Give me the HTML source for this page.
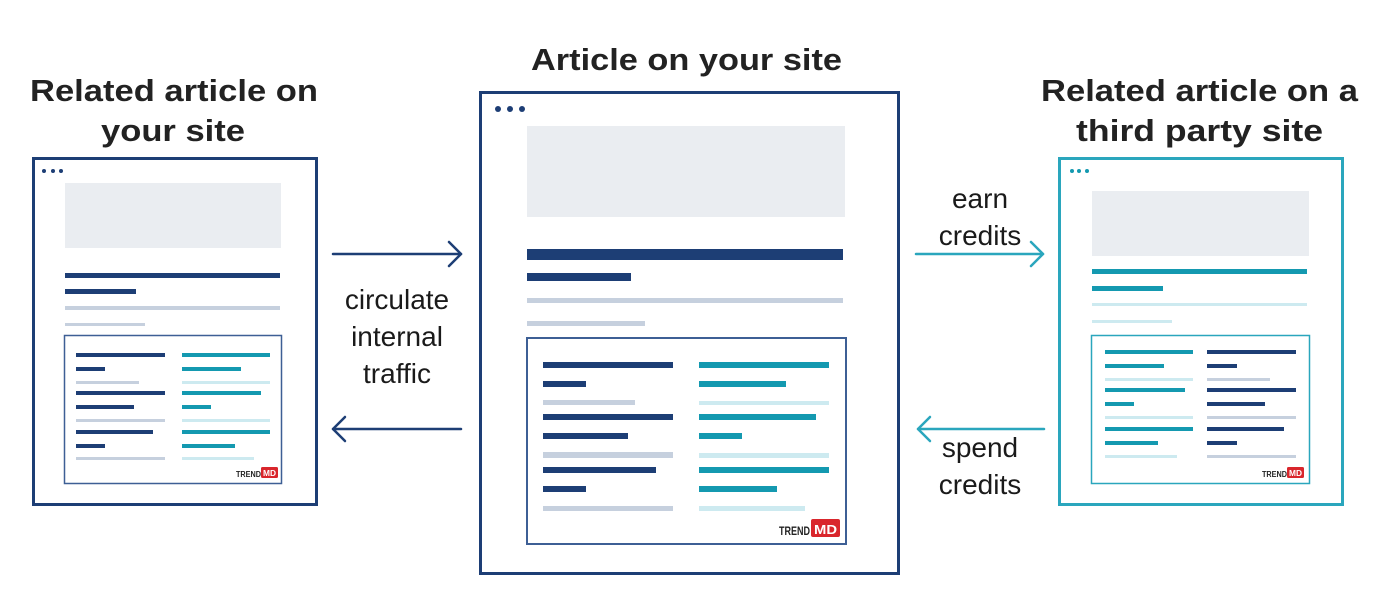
<!DOCTYPE html>
<html><head><meta charset="utf-8"><style>
html,body{margin:0;padding:0;background:#fff;}
svg{display:block;}
text{font-family:"Liberation Sans",sans-serif;}
</style></head><body>
<svg width="1390" height="600" viewBox="0 0 1390 600" xmlns="http://www.w3.org/2000/svg">
<!-- Titles -->
<g fill="#222" font-weight="bold" font-size="31">
<text x="531" y="70" textLength="311" lengthAdjust="spacingAndGlyphs">Article on your site</text>
<text x="30" y="101" textLength="288" lengthAdjust="spacingAndGlyphs">Related article on</text>
<text x="101" y="141" textLength="144" lengthAdjust="spacingAndGlyphs">your site</text>
<text x="1041" y="101" textLength="317" lengthAdjust="spacingAndGlyphs">Related article on a</text>
<text x="1076" y="141" textLength="247" lengthAdjust="spacingAndGlyphs">third party site</text>
</g>
<!-- Arrow labels -->
<g fill="#1a1a1a" font-size="28" text-anchor="middle">
<text x="397" y="309">circulate</text>
<text x="397" y="346">internal</text>
<text x="397" y="383">traffic</text>
<text x="980" y="208">earn</text>
<text x="980" y="245">credits</text>
<text x="980" y="457">spend</text>
<text x="980" y="494">credits</text>
</g>
<!-- Arrows -->
<g fill="none" stroke-width="2.5" stroke-linecap="round" stroke-linejoin="round">
<g stroke="#1d3e75">
<line x1="333" y1="254" x2="461" y2="254"/><polyline points="449,242 461,254 449,266"/>
<line x1="333" y1="429" x2="461" y2="429"/><polyline points="345,417 333,429 345,441"/>
</g>
<g stroke="#2aa6bd">
<line x1="916" y1="254" x2="1043" y2="254"/><polyline points="1031,242 1043,254 1031,266"/>
<line x1="918" y1="429" x2="1044" y2="429"/><polyline points="930,417 918,429 930,441"/>
</g>
</g>

<!-- Center panel -->
<rect x="480.5" y="92.5" width="418" height="481" fill="#fff" stroke="#1d3e75" stroke-width="3"/>
<g fill="#1d3e75"><circle cx="498" cy="109" r="3"/><circle cx="510" cy="109" r="3"/><circle cx="522" cy="109" r="3"/></g>
<rect x="527" y="126" width="318" height="91" fill="#eaedf1"/>
<rect x="527" y="249" width="316" height="11" fill="#1d3e75"/>
<rect x="527" y="273" width="104" height="8" fill="#1d3e75"/>
<rect x="527" y="298" width="316" height="5" fill="#c6d0de"/>
<rect x="527" y="321" width="118" height="5" fill="#c6d0de"/>
<rect x="527" y="338" width="319" height="206" fill="none" stroke="#3d5f95" stroke-width="2"/>
<g fill="#1d3e75">
<rect x="543" y="362" width="130" height="6"/><rect x="543" y="381" width="43" height="6"/>
<rect x="543" y="414" width="130" height="6"/><rect x="543" y="433" width="85" height="6"/>
<rect x="543" y="467" width="113" height="6"/><rect x="543" y="486" width="43" height="6"/>
</g>
<g fill="#c6d0de"><rect x="543" y="400" width="92" height="5"/><rect x="543" y="452" width="130" height="6"/><rect x="543" y="506" width="130" height="5"/></g>
<g fill="#1499b0">
<rect x="699" y="362" width="130" height="6"/><rect x="699" y="381" width="87" height="6"/>
<rect x="699" y="414" width="117" height="6"/><rect x="699" y="433" width="43" height="6"/>
<rect x="699" y="467" width="130" height="6"/><rect x="699" y="486" width="78" height="6"/>
</g>
<g fill="#cdeaf0"><rect x="699" y="401" width="130" height="4"/><rect x="699" y="453" width="130" height="5"/><rect x="699" y="506" width="106" height="5"/></g>
<text x="779" y="535" font-size="12" font-weight="bold" fill="#222" textLength="31" lengthAdjust="spacingAndGlyphs">TREND</text>
<rect x="811" y="519" width="29" height="18" rx="2" fill="#d9262c"/>
<text x="814" y="534" font-size="13" font-weight="bold" fill="#fff" textLength="23" lengthAdjust="spacingAndGlyphs">MD</text>

<!-- Left panel -->
<rect x="33.5" y="158.5" width="283" height="346" fill="#fff" stroke="#1d3e75" stroke-width="3"/>
<g fill="#1d3e75"><circle cx="44" cy="171" r="2"/><circle cx="53" cy="171" r="2"/><circle cx="61" cy="171" r="2"/></g>
<rect x="65" y="183" width="216" height="65" fill="#eaedf1"/>
<rect x="65" y="273" width="215" height="5" fill="#1d3e75"/>
<rect x="65" y="289" width="71" height="5" fill="#1d3e75"/>
<rect x="65" y="306" width="215" height="4" fill="#c6d0de"/>
<rect x="65" y="323" width="80" height="3" fill="#c6d0de"/>
<rect x="64.5" y="335.5" width="217" height="148" fill="none" stroke="#3d5f95" stroke-width="1.5"/>
<g fill="#1d3e75">
<rect x="76" y="353" width="89" height="4"/><rect x="76" y="367" width="29" height="4"/>
<rect x="76" y="391" width="89" height="4"/><rect x="76" y="405" width="58" height="4"/>
<rect x="76" y="430" width="77" height="4"/><rect x="76" y="444" width="29" height="4"/>
</g>
<g fill="#c6d0de"><rect x="76" y="381" width="63" height="3"/><rect x="76" y="419" width="89" height="3"/><rect x="76" y="457" width="89" height="3"/></g>
<g fill="#1499b0">
<rect x="182" y="353" width="88" height="4"/><rect x="182" y="367" width="59" height="4"/>
<rect x="182" y="391" width="79" height="4"/><rect x="182" y="405" width="29" height="4"/>
<rect x="182" y="430" width="88" height="4"/><rect x="182" y="444" width="53" height="4"/>
</g>
<g fill="#cdeaf0"><rect x="182" y="381" width="88" height="3"/><rect x="182" y="419" width="88" height="3"/><rect x="182" y="457" width="72" height="3"/></g>
<text x="236" y="477" font-size="8" font-weight="bold" fill="#222" textLength="25" lengthAdjust="spacingAndGlyphs">TREND</text>
<rect x="261" y="467" width="17" height="11" rx="1.5" fill="#d9262c"/>
<text x="263" y="476" font-size="8" font-weight="bold" fill="#fff" textLength="13" lengthAdjust="spacingAndGlyphs">MD</text>

<!-- Right panel -->
<rect x="1059.5" y="158.5" width="283" height="346" fill="#fff" stroke="#2aa6bd" stroke-width="3"/>
<g fill="#1499b0"><circle cx="1072" cy="171" r="2"/><circle cx="1079" cy="171" r="2"/><circle cx="1087" cy="171" r="2"/></g>
<rect x="1092" y="191" width="217" height="65" fill="#eaedf1"/>
<rect x="1092" y="269" width="215" height="5" fill="#1499b0"/>
<rect x="1092" y="286" width="71" height="5" fill="#1499b0"/>
<rect x="1092" y="303" width="215" height="3" fill="#cdeaf0"/>
<rect x="1092" y="320" width="80" height="3" fill="#cdeaf0"/>
<rect x="1091.5" y="335.5" width="218" height="148" fill="none" stroke="#2aa6bd" stroke-width="1.5"/>
<g fill="#1499b0">
<rect x="1105" y="350" width="88" height="4"/><rect x="1105" y="364" width="59" height="4"/>
<rect x="1105" y="388" width="80" height="4"/><rect x="1105" y="402" width="29" height="4"/>
<rect x="1105" y="427" width="88" height="4"/><rect x="1105" y="441" width="53" height="4"/>
</g>
<g fill="#cdeaf0"><rect x="1105" y="378" width="88" height="3"/><rect x="1105" y="416" width="88" height="3"/><rect x="1105" y="455" width="72" height="3"/></g>
<g fill="#1d3e75">
<rect x="1207" y="350" width="89" height="4"/><rect x="1207" y="364" width="30" height="4"/>
<rect x="1207" y="388" width="89" height="4"/><rect x="1207" y="402" width="58" height="4"/>
<rect x="1207" y="427" width="77" height="4"/><rect x="1207" y="441" width="30" height="4"/>
</g>
<g fill="#c6d0de"><rect x="1207" y="378" width="63" height="3"/><rect x="1207" y="416" width="89" height="3"/><rect x="1207" y="455" width="89" height="3"/></g>
<text x="1262" y="477" font-size="8" font-weight="bold" fill="#222" textLength="25" lengthAdjust="spacingAndGlyphs">TREND</text>
<rect x="1287" y="467" width="17" height="11" rx="1.5" fill="#d9262c"/>
<text x="1289" y="476" font-size="8" font-weight="bold" fill="#fff" textLength="13" lengthAdjust="spacingAndGlyphs">MD</text>
</svg>
</body></html>
